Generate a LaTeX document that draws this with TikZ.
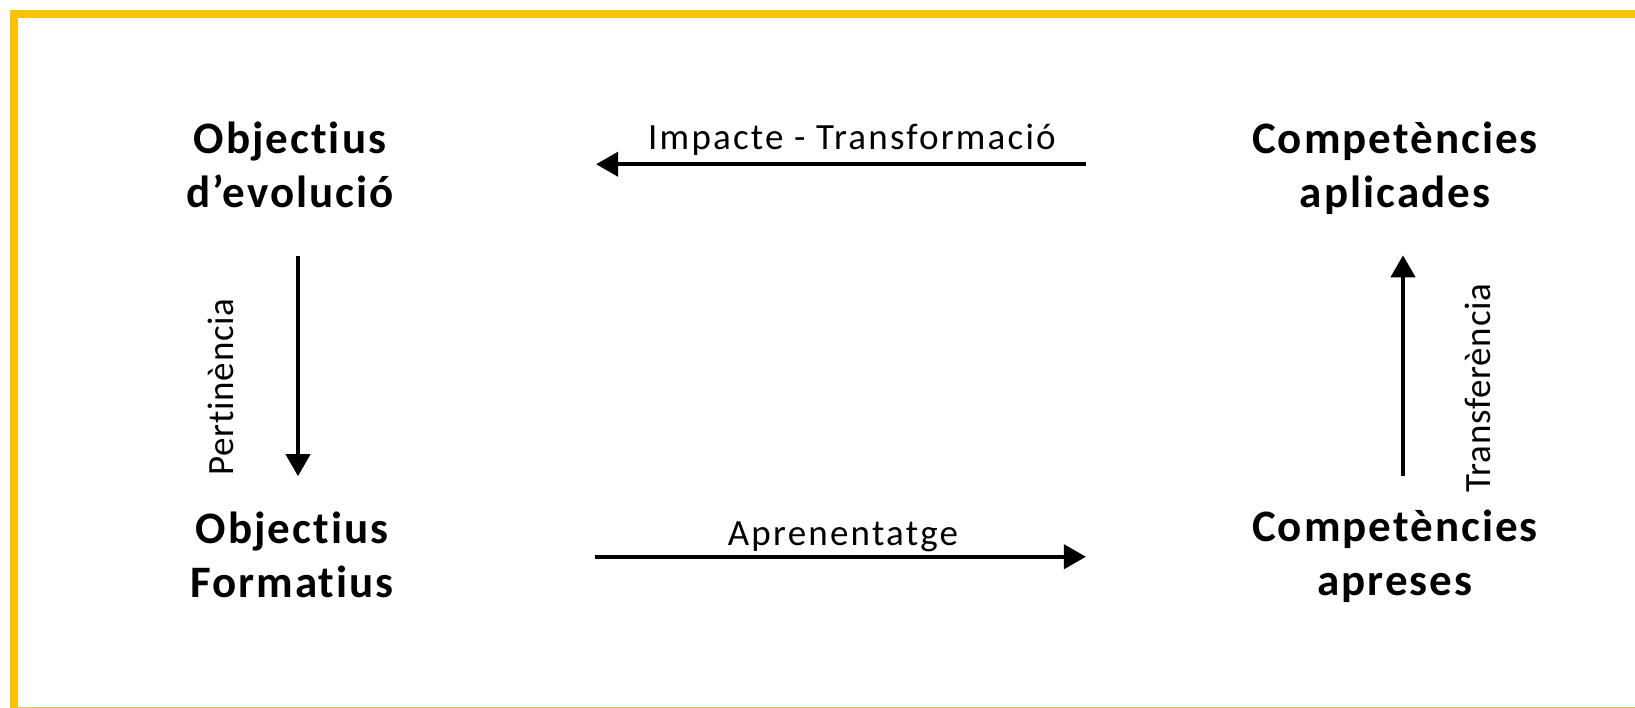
\documentclass[tikz,border=0pt]{standalone}
\usepackage{fontspec}
\setmainfont{Carlito}
\newfontfamily\titlefont[LetterSpace=4.5,Ligatures=NoCommon]{Carlito}
\newfontfamily\labelfont[LetterSpace=6,Ligatures=NoCommon]{Carlito}
\newfontfamily\sidefont[LetterSpace=2,Ligatures=NoCommon]{Carlito}
\usetikzlibrary{arrows.meta}
\definecolor{frameyellow}{HTML}{FFC000}
\begin{document}
\begin{tikzpicture}[x=1pt,y=-1pt,
  title/.style={font=\titlefont\fontsize{45}{54}\selectfont\bfseries, align=center, inner sep=0pt, anchor=base},
  lab/.style={font=\labelfont\fontsize{37}{44}\selectfont, inner sep=0pt},
  sidelab/.style={font=\sidefont\fontsize{37}{44}\selectfont, inner sep=0pt, rotate=90},
  arr/.style={line width=4pt, -{Triangle[length=22pt,width=24pt]}}]
\useasboundingbox (0,0) rectangle (1635,708);
\draw[frameyellow, line width=8pt] (14,14) rectangle (1660,711);
% titles
\node[title] (oe) at (290,208) {Objectius\\d’evolució};
\node[title] (ca) at (1395,208) {Competències\\aplicades};
\node[title] (of) at (292,597) {Objectius\\Formatius};
\node[title] (cap) at (1395,595) {Competències\\apreses};
% arrows
\draw[arr, shorten <=47pt, shorten >=35pt] ([xshift=8pt]oe.south) -- ([xshift=6pt]of.north);
\draw[arr, shorten <=33pt, shorten >=40pt] ([xshift=8pt]cap.north) -- ([xshift=8pt]ca.south);
\draw[arr, shorten <=166pt, shorten >=202pt] ([yshift=4.5pt]ca.west) -- ([yshift=4.5pt]ca.west -| oe.east);
\draw[arr, shorten <=201pt, shorten >=166pt] ([yshift=-1pt]cap.west -| of.east) -- ([yshift=-1pt]cap.west);
% labels
\node[lab, anchor=base] (limp) at (852,150) {Impacte - Transformació};
\node[lab, anchor=base] (lapr) at (843,545) {Aprenentatge};
\node[sidelab] (lper) at (221,387) {Pertinència};
\node[sidelab] (ltra) at (1478,388) {Transferència};
\end{tikzpicture}
\end{document}
